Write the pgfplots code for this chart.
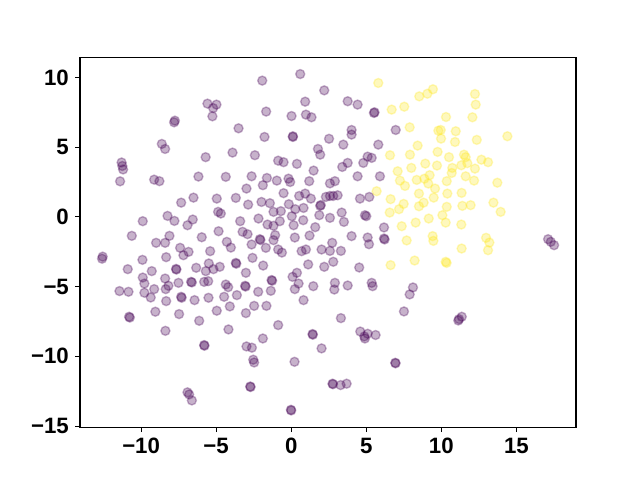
\documentclass[border=0pt]{standalone}
\usepackage{pgfplots}
\pgfplotsset{compat=1.18}
\usepackage{fontspec}
\setmainfont{Liberation Sans}
\definecolor{vpurple}{HTML}{440154}
\definecolor{vyellow}{HTML}{FDE725}
\begin{document}
\begin{tikzpicture}
\useasboundingbox (0,0) rectangle (460.8pt,345.6pt);
\begin{axis}[
  at={(57.6pt,38.016pt)}, anchor=south west,
  scale only axis, width=357.12pt, height=266.112pt,
  xmin=-14.07, xmax=18.97, ymin=-15.08, ymax=11.42,
  xtick={-10,-5,0,5,10,15}, ytick={-15,-10,-5,0,5,10},
  xticklabels={−10,−5,0,5,10,15},
  yticklabels={−15,−10,−5,0,5,10},
  tick align=outside, xtick pos=bottom, ytick pos=left,
  major tick length=3.5pt,
  every tick/.style={black, line width=0.8pt},
  axis line style={line width=0.8pt},
  tick label style={font=\fontsize{16}{19}\selectfont\bfseries},
  xticklabel style={yshift=-1pt},
  yticklabel style={xshift=-1pt},
]
\addplot[only marks, mark=*, mark size=3.25pt, mark options={line width=1pt, draw=vpurple, fill=vpurple, fill opacity=0.3, draw opacity=0.3}] coordinates {
(-7.8,6.78) (-7.75,6.9) (-8.62,5.23) (-8.4,4.87) (-5.58,8.12) (-4.98,8.05) (-5.2,7.8) (-5.25,7.21)
(-5.7,4.28) (-11.3,3.9) (-11.25,3.65) (-11.2,3.4) (-11.4,2.55) (-9.13,2.67) (-8.78,2.56) (-6.18,2.89)
(0.6,10.24) (-1.93,9.77) (2.2,9.07) (-1.67,7.55) (0.93,8.26) (0.02,7.23) (0.98,7.33) (1.35,7.14)
(-3.51,6.35) (-1.78,5.73) (0.11,5.73) (0.11,5.78) (2.52,5.6) (-3.91,4.61) (-2.42,4.42)
(-0.87,4.03) (-0.51,3.92) (0.38,3.8) (1.78,4.87) (1.93,4.46) (1.49,3.32) (-4.36,2.87) (-2.64,2.91)
(-1.62,2.79) (-0.96,2.6) (-0.18,2.74) (-0.07,2.5) (1.2,2.56)
(3.76,8.29) (4.42,8.05) (5.51,7.45) (5.55,7.5) (6.96,6.23) (4.02,6.23) (4.02,5.9) (3.47,5.18) (5.8,5.18)
(5.09,4.32) (5.36,4.23) (3.76,3.87) (3.4,3.58) (4.8,3.87) (4.42,2.91) (5.91,2.91) (2.91,2.56)
(-6.51,1.38) (-7.33,1.02) (-8.24,0.07) (-7.78,-0.29) (-6.56,-0.19) (-6.91,-0.6) (-9.89,-0.31)
(-10.62,-1.36) (-8.11,-1.36) (-8.4,-1.86) (-9.0,-1.86) (-5.96,-1.46) (-7.4,-2.22) (-6.84,-2.51) (-7.18,-2.75)
(-12.56,-2.85) (-12.6,-3.0) (-9.91,-3.08) (-8.33,-2.89) (-10.89,-3.75) (-9.29,-3.89) (-7.67,-3.73) (-7.65,-3.78)
(-6.33,-3.65) (-9.89,-4.35) (-9.78,-4.78) (-8.4,-4.42) (-8.18,-4.94) (-8.36,-5.18) (-7.51,-4.73)
(-6.67,-4.66) (-6.62,-4.7) (-5.8,-4.66) (-11.44,-5.32) (-10.84,-5.37) (-9.78,-5.44) (-9.13,-5.18) (-9.36,-5.78)
(-7.33,-5.73) (-7.3,-5.8) (-8.33,-6.04) (-6.44,-5.97)
(-10.8,-7.16) (-10.75,-7.22) (-9.05,-6.8) (-7.47,-6.97) (-6.13,-7.45) (-8.38,-8.17) (-5.8,-9.19) (-5.78,-9.24)
(-6.91,-12.58) (-6.8,-12.73) (-6.62,-13.16)
(-4.96,-6.73) (-4.09,-6.42) (-3.02,-6.9) (-2.47,-6.38) (-1.65,-6.38) (-4.18,-8.07) (-0.87,-7.76) (-1.89,-8.72)
(-2.98,-9.29) (-2.62,-9.38) (-2.53,-10.24) (-2.47,-10.44) (1.42,-8.4) (1.44,-8.45) (2.02,-9.43) (0.22,-10.39)
(-2.73,-12.16) (-2.71,-12.2) (-0.02,-13.83) (0.0,-13.88)
(3.31,-7.26) (7.51,-6.78) (4.6,-8.22) (5.09,-8.38) (4.87,-8.57) (4.91,-8.72) (5.62,-8.47) (6.93,-10.46) (6.95,-10.5)
(2.75,-11.96) (2.78,-12.0) (3.29,-12.06) (3.69,-11.96)
(11.18,-7.33) (11.36,-7.16) (11.13,-7.43)
(17.11,-1.6) (17.29,-1.79) (17.51,-2.03)
(2.58,2.4) (2.58,1.5) (2.8,1.5) (3.09,1.55) (4.58,1.31) (5.2,1.43) (3.36,0.31) (3.51,-0.36) (2.58,-0.07)
(4.91,0.12) (5.0,0.05) (6.18,-0.76) (4.02,-1.38) (5.09,-1.48) (5.18,-1.96) (6.18,-1.55) (6.22,-1.62)
(2.73,-1.86) (2.58,-2.44) (3.31,-2.44) (2.8,-3.22) (4.53,-3.63) (2.91,-4.73) (2.87,-5.21) (3.76,-4.92)
(5.36,-4.73) (5.42,-4.97) (8.11,-5.06) (7.89,-5.56)
(-2.98,2.03) (-1.89,2.27) (-4.96,1.31) (-3.69,1.36) (-2.87,0.88) (-1.98,1.07) (-1.42,0.98) (-0.51,1.7)
(0.53,1.5) (0.93,1.67) (1.31,1.31) (2.31,1.43) (-0.16,0.91) (0.27,0.55) (0.82,0.64) (1.93,0.79) (1.97,0.85)
(1.87,0.12) (-4.87,0.36) (-4.69,0.24) (-2.18,-0.12) (-3.4,-0.31) (-1.18,0.36) (-0.69,0.41) (-0.76,-0.31)
(0.04,0.05) (0.16,-0.6) (0.8,-0.24) (-1.58,-0.55) (-1.18,-0.64) (1.6,-0.74) (-4.84,-1.03) (-3.24,-1.07)
(-2.91,-1.24) (-1.07,-1.31) (-1.18,-1.67) (0.24,-1.48) (1.22,-1.34) (-2.09,-1.6) (-2.05,-1.66)
(-4.29,-1.79) (-4.02,-2.2) (-2.64,-1.98) (-1.69,-2.22) (-0.87,-2.34) (-0.62,-2.56) (0.69,-2.46) (0.98,-2.34)
(2.02,-2.34) (-5.4,-2.46) (-2.58,-2.94) (-5.49,-3.34) (-5.18,-3.75) (-5.69,-3.89) (-4.76,-3.58)
(-3.69,-3.3) (-3.66,-3.36) (-1.87,-3.49) (-3.02,-4.01) (1.13,-3.41) (2.2,-3.58) (0.38,-4.01) (0.09,-4.3)
(0.49,-4.78) (0.24,-5.18) (-1.31,-4.53) (-1.27,-4.58) (-5.53,-4.61) (-4.36,-4.85) (-4.2,-5.04)
(-3.07,-4.94) (-3.04,-5.0) (-2.2,-5.37) (-1.36,-5.3) (1.47,-4.97) (-3.62,-5.61) (-4.47,-5.73) (-5.51,-5.8)
(0.82,-5.97)
};
\addplot[only marks, mark=*, mark size=3.25pt, mark options={line width=1pt, draw=vyellow, fill=vyellow, fill opacity=0.3, draw opacity=0.3}] coordinates {
(5.8,9.6) (8.53,8.64) (9.07,8.83) (9.44,9.15) (6.69,7.69) (7.53,7.9) (10.31,7.16) (7.89,6.42) (9.8,6.18)
(9.96,6.23) (9.98,5.61) (10.96,6.14) (8.42,5.11) (6.58,4.42) (7.91,4.46) (9.75,4.66) (10.51,4.28)
(8.93,3.82) (8.0,3.51) (9.71,3.68) (7.09,3.27) (7.24,2.6) (8.36,2.65) (8.87,2.74) (9.22,2.99) (10.36,2.56)
(10.69,3.15) (12.24,8.81) (12.29,8.05) (12.07,7.14) (10.91,5.37) (12.36,5.52) (14.4,5.78) (11.51,4.46)
(11.62,4.28) (11.73,3.85) (11.33,3.7) (12.24,3.46) (12.67,4.1) (13.11,3.92) (10.73,3.51) (11.62,2.91)
(12.18,2.6) (13.73,2.45) (11.35,1.72) (11.4,0.79) (11.95,0.84) (13.47,1.02) (13.95,0.36) (11.33,-0.55)
(12.98,-1.5) (13.2,-1.84) (13.11,-2.39) (11.35,-2.27) (7.58,2.22) (9.13,2.39) (9.58,2.03) (5.69,1.84)
(6.62,1.27) (8.51,1.67) (9.49,1.38) (10.4,1.67) (7.49,0.93) (7.18,0.55) (8.51,0.76) (8.82,1.02)
(10.36,0.72) (6.56,0.31) (9.16,-0.12) (10.07,0.12) (10.29,-0.41) (8.29,-0.41) (7.36,-0.67) (7.69,-1.69)
(9.42,-1.38) (9.47,-1.72) (6.62,-3.46) (8.22,-3.13) (10.29,-3.22) (10.35,-3.3)
};
\end{axis}
\end{tikzpicture}
\end{document}
